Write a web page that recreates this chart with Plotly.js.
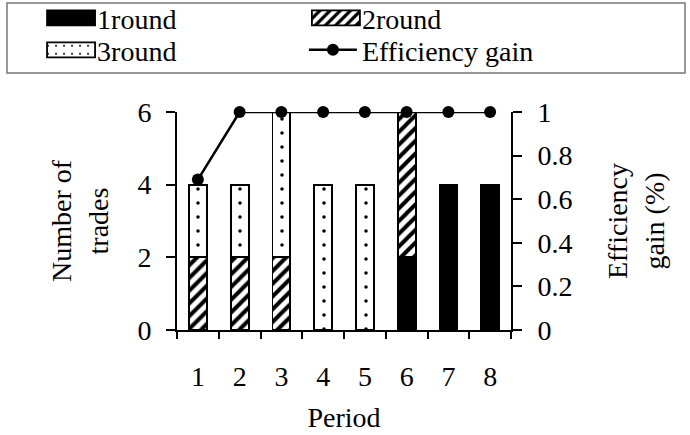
<!DOCTYPE html>
<html>
<head>
<meta charset="utf-8">
<script src="https://cdn.plot.ly/plotly-3.0.1.min.js"></script>
<style>html,body{margin:0;padding:0;background:#fff;}#chart{width:690px;height:435px;}</style>
</head>
<body>
<div id="chart"></div>
<script>
const periods = ['1','2','3','4','5','6','7','8'];
const round1 = [0, 0, 0, 0, 0, 2, 4, 4];
const round2 = [2, 2, 2, 0, 0, 4, 0, 0];
const round3 = [2, 2, 4, 4, 4, 0, 0, 0];
const efficiencyGain = [0.69, 1, 1, 1, 1, 1, 1, 1];
const leftTicks = [0, 2, 4, 6];
const rightTicks = [0, 0.2, 0.4, 0.6, 0.8, 1];
const rightTickText = ['0', '0.2', '0.4', '0.6', '0.8', '1'];

const FONT = '"Liberation Serif", "Times New Roman", Times, serif';
const FS = 28;
const barLine = {color: '#000', width: 1.8};
const bw = 0.43;

const traces = [
  {type: 'bar', name: '1round', x: periods, y: round1, width: bw, legend: 'legend',
   marker: {color: '#000', line: barLine}},
  {type: 'bar', name: '2round', x: periods, y: round2, width: bw, legend: 'legend2',
   marker: {color: '#fff', line: barLine,
     pattern: {shape: '/', fgcolor: '#000', bgcolor: '#fff', size: 9, solidity: 0.45}}},
  {type: 'bar', name: '3round', x: periods, y: round3, width: bw, legend: 'legend3',
   marker: {color: '#fff', line: barLine,
     pattern: {shape: '.', fgcolor: '#000', bgcolor: '#fff', size: 14, solidity: 0.05}}},
  {type: 'scatter', mode: 'lines+markers', name: 'Efficiency gain', x: periods, y: efficiencyGain,
   yaxis: 'y2', cliponaxis: false, legend: 'legend4',
   line: {color: '#000', width: 2.5}, marker: {color: '#000', size: 12, symbol: 'circle'}}
];

function leg(x, y) {
  return {orientation: 'v', x: x, xanchor: 'left', y: y, yanchor: 'middle', itemwidth: 48,
    font: {family: FONT, size: FS, color: '#000'}, bgcolor: 'rgba(0,0,0,0)', borderwidth: 0};
}
const col1 = -0.413, col2 = 0.38, row1 = 1.43, row2 = 1.284;

const axisTitleFont = {family: FONT, size: FS, color: '#000'};
const layout = {
  width: 690, height: 435,
  margin: {l: 177, r: 179, t: 112, b: 105, pad: 0, autoexpand: false},
  paper_bgcolor: '#fff', plot_bgcolor: '#fff',
  font: {family: FONT, size: FS, color: '#000'},
  barmode: 'stack',
  showlegend: true,
  legend: leg(col1, row1),
  legend2: leg(col2, row1),
  legend3: leg(col1, row2),
  legend4: leg(col2, row2),
  xaxis: {type: 'category', tickson: 'boundaries', ticks: 'outside', ticklen: 7, tickwidth: 2,
    tickcolor: '#000', showline: true, linecolor: '#000', linewidth: 2, showgrid: false,
    zeroline: false, ticklabelstandoff: 20, range: [-0.5, 7.5], automargin: false,
    title: {text: 'Period', font: axisTitleFont, standoff: 17}},
  yaxis: {range: [0, 6], tickvals: leftTicks, ticks: 'outside', ticklen: 9, tickwidth: 2,
    tickcolor: '#000', showline: true, linecolor: '#000', linewidth: 2, showgrid: false,
    zeroline: false, ticklabelstandoff: 9, automargin: false,
    title: {text: 'Number of<br>trades', font: axisTitleFont, standoff: 21}},
  yaxis2: {range: [0, 1], overlaying: 'y', side: 'right', tickvals: rightTicks, ticktext: rightTickText,
    ticks: 'outside', ticklen: 9, tickwidth: 2, tickcolor: '#000', showline: true,
    linecolor: '#000', linewidth: 2, showgrid: false, zeroline: false, ticklabelstandoff: 10,
    automargin: false,
    title: {text: 'Efficiency<br>gain (%)', font: axisTitleFont, standoff: 36}},
  shapes: [{type: 'rect', xref: 'paper', yref: 'paper', x0: -0.509, x1: 1.521, y0: 1.179, y1: 1.5,
    line: {color: '#777', width: 1.5}, fillcolor: 'rgba(0,0,0,0)', layer: 'below'}]
};

function widenSwatches() {
  // widen the legend bar swatches to match the reference's rectangular keys
  document.querySelectorAll('#chart g.legendpoints path').forEach(function (p) {
    const d = (p.getAttribute('d') || '').replace(/\s/g, '');
    if (/^M6,6H-6V-6H6Z$/.test(d)) {
      p.setAttribute('d', 'M27,7.5H-21V-7.5H27Z');
    }
  });
}
Plotly.newPlot('chart', traces, layout, {displayModeBar: false, staticPlot: true}).then(function () {
  widenSwatches();
  setTimeout(widenSwatches, 50);
});
</script>
</body>
</html>
